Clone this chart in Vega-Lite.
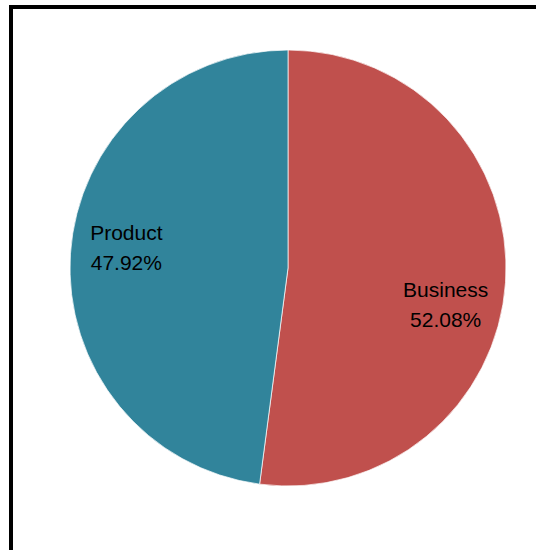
{
  "$schema": "https://vega.github.io/schema/vega-lite/v6.json",
  "autosize": {"type": "fit", "contains": "padding"},
  "width": 536,
  "height": 550,
  "padding": {"left": 11, "top": 7, "right": -29, "bottom": -10},
  "background": "#ffffff",
  "view": {"stroke": "#000000", "strokeWidth": 4, "fill": "#ffffff"},
  "config": {"view": {"stroke": "#000000", "strokeWidth": 4}},
  "data": {"values": [
    {"category": "Business", "value": 52.08},
    {"category": "Product", "value": 47.92}
  ]},
  "transform": [
    {"calculate": "datum.category + '\\n' + format(datum.value, '.2f') + '%'", "as": "label"}
  ],
  "encoding": {
    "theta": {"field": "value", "type": "quantitative", "stack": true},
    "order": {"field": "category", "type": "nominal"}
  },
  "layer": [
    {
      "mark": {"type": "arc", "radius": 218, "yOffset": -15.5, "stroke": "#ffffff", "strokeWidth": 0.7},
      "encoding": {
        "color": {"field": "category", "type": "nominal", "legend": null,
          "scale": {"domain": ["Business", "Product"], "range": ["#C0504D", "#31849B"]}}
      }
    },
    {
      "mark": {"type": "text", "radius": 162, "yOffset": -15.5, "dy": {"expr": "datum.category == 'Business' ? 12 : -23"}, "dx": {"expr": "datum.category == 'Business' ? -4 : 0"}, "lineBreak": "\n", "lineHeight": 30, "font": "Liberation Sans", "fontSize": 21, "fill": "#000000", "align": "center", "baseline": "middle"},
      "encoding": {"text": {"field": "label"}}
    }
  ]
}
